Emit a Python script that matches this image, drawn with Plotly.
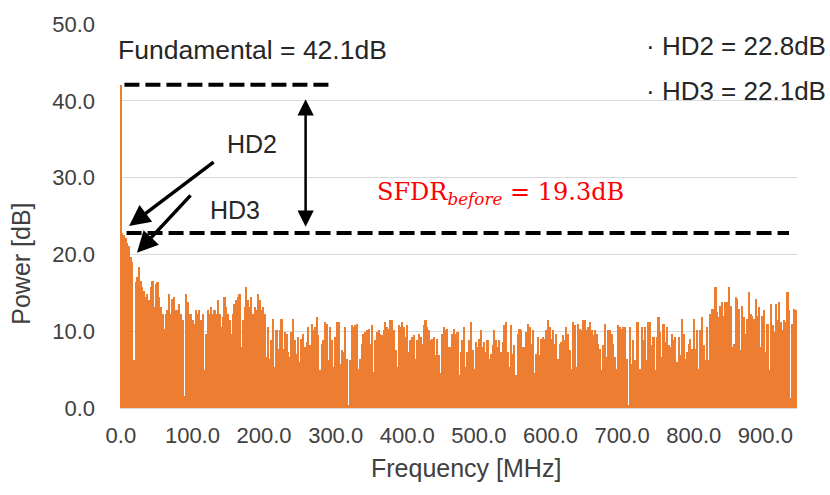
import numpy as np
import plotly.graph_objects as go

# ---------------- data ----------------
FREQ_STEP_MHZ = 2.34          # spacing of the spectrum bins
FUNDAMENTAL_DB = 42.1
HD2_DB = 22.8
HD3_DB = 22.1
SFDR_DB = 19.3

POWER_LOW = [  # ~0 - 350 MHz
    42.1, 22.8, 22.5, 22.1, 21.5, 21.1, 19.6, 19.0, 6.2, 16.4,
    17.0, 18.3, 16.6, 15.8, 15.3, 14.4, 14.85, 14.0, 15.7, 16.6,
    13.1, 16.2, 16.4, 14.4, 13.1, 12.3, 10.3, 12.3, 12.7, 14.85,
    12.3, 14.2, 14.4, 12.7, 12.7, 13.6, 12.3, 11.4, 1.5, 14.85,
    13.8, 12.3, 12.3, 11.4, 11.0, 12.7, 12.3, 12.7, 11.4, 12.3,
    4.9, 9.7, 12.7, 12.3, 13.1, 12.3, 12.7, 12.3, 14.0, 12.3,
    10.5, 11.8, 14.4, 13.1, 12.3, 11.4, 9.7, 12.3, 13.6, 14.0,
    14.4, 14.85, 7.9, 11.4, 13.1, 15.7, 14.0, 13.1, 14.4, 12.3,
    13.1, 12.7, 14.85, 14.0, 12.7, 13.1, 12.3, 6.7,
]
POWER_MID1 = [
    10.5, 6.4, 8.8, 11.6, 5.35, 10.1, 7.7, 10.1, 11.6, 7.7,
    9.9, 9.7, 7.3, 6.65, 9.9, 11.6, 8.8, 7.08, 9.24, 6.0,
    9.03, 9.7, 7.95, 8.6, 10.5, 8.16, 10.97, 10.1, 10.5, 11.8,
    9.5, 4.9, 8.38, 8.8, 11.2, 10.97, 6.2, 10.5, 8.8, 5.35,
    9.24, 11.2, 11.2, 5.78, 7.5, 7.3, 10.5, 6.4, 0.39, 6.2,
    10.75, 10.5, 10.75, 10.97, 5.13, 6.4, 8.38, 9.7, 9.9, 10.1,
    10.3, 8.38, 10.75, 4.7, 8.8, 9.9, 10.1, 9.7, 9.5, 10.1,
    11.2, 10.5, 10.3, 11.4, 11.4, 10.1, 7.5, 5.35, 10.75, 10.5,
    11.2, 10.5, 9.24, 10.75, 7.3, 8.8, 9.24, 9.5, 6.4, 8.8,
    9.7, 9.24, 8.38, 10.75, 11.4, 10.5, 10.1, 8.8, 9.03, 9.24,
    6.86, 9.03,
]
POWER_MID2 = [
    6.86, 4.5, 9.7, 10.5, 10.1, 10.3, 7.95, 7.95, 9.7, 10.3,
    9.7, 9.9, 4.3, 7.3, 8.8, 10.5, 5.35, 7.3, 8.8, 11.2,
    7.5, 5.13, 8.6, 7.95, 9.03, 10.1, 7.95, 8.6, 7.3, 8.8,
    6.4, 7.08, 8.16, 10.1, 8.8, 7.95, 8.8, 7.3, 8.6, 10.75,
    11.2, 7.3, 5.35, 10.75, 7.08, 8.16, 4.3, 9.7, 10.3, 10.1,
    7.95, 7.95, 9.9, 10.97, 10.5, 8.38, 10.1, 4.5, 7.08, 9.24,
    6.86, 9.03, 9.24, 9.03, 10.1, 11.4, 10.5, 9.03, 10.1, 8.38,
    9.7, 6.4, 8.38, 8.6, 9.5, 8.8, 10.5, 9.7, 7.5, 5.13,
    11.2, 10.75, 5.35, 10.97, 10.3, 10.1, 11.4, 11.4, 10.1, 10.5,
    11.2, 10.1, 9.5, 10.1, 9.7, 8.38, 7.7, 4.9, 8.16, 10.97,
    6.65, 10.1,
]
POWER_HIGH = [  # ~710 - 945 MHz
    10.1, 9.7, 8.38, 6.65, 5.13, 10.75, 10.5, 10.3, 10.5, 10.5,
    6.4, 0.39, 10.5, 5.78, 8.8, 6.2, 11.2, 11.2, 5.13, 10.5,
    8.8, 10.5, 6.2, 11.2, 11.2, 8.16, 9.24, 4.9, 9.24, 11.8,
    9.9, 6.65, 10.97, 8.6, 10.5, 8.16, 7.95, 9.7, 8.8, 9.24,
    6.0, 9.24, 6.86, 11.6, 9.7, 6.4, 7.3, 8.38, 9.03, 7.7,
    11.6, 7.7, 10.1, 5.13, 10.1, 11.8, 8.16, 6.2, 10.5, 6.2,
    12.25, 12.9, 12.9, 15.7, 12.5, 11.8, 13.3, 13.8, 12.0, 13.8,
    13.8, 15.7, 13.3, 7.95, 8.38, 14.4, 14.2, 12.9, 7.5, 13.3,
    11.8, 9.7, 11.6, 15.1, 12.25, 12.0, 11.6, 14.2, 12.0, 13.1,
    7.95, 12.0, 12.7, 7.3, 10.97, 4.9, 13.5, 10.75, 9.9, 13.5,
    11.4, 13.8, 11.2, 10.1, 11.4, 11.2, 15.1, 12.7, 1.25, 10.97,
    12.9, 12.7,
]

POWER_DB = POWER_LOW + POWER_MID1 + POWER_MID2 + POWER_HIGH
FREQ_MHZ = np.arange(len(POWER_DB)) * FREQ_STEP_MHZ

X_TICKS = [0, 100, 200, 300, 400, 500, 600, 700, 800, 900]
Y_TICKS = [0, 10, 20, 30, 40, 50]

# ---------------- layout helpers ----------------
W, H = 830, 495
ML, MR, MT, MB = 120, 33, 22, 87
PW, PH = W - ML - MR, H - MT - MB


def px(x):
    return (x - ML) / PW


def py(y):
    return (H - MB - y) / PH


FONT = "Liberation Sans, Arial, sans-serif"
TXT = "#404040"
BAR = "#ED7D31"

fig = go.Figure()
fig.add_trace(go.Bar(
    x=FREQ_MHZ, y=POWER_DB,
    marker=dict(color=BAR, line=dict(width=0)),
    hoverinfo="x+y", showlegend=False,
))

x_lo = FREQ_MHZ[0] - FREQ_STEP_MHZ / 2
x_hi = FREQ_MHZ[-1] + FREQ_STEP_MHZ / 2

fig.update_layout(
    width=W, height=H,
    margin=dict(l=ML, r=MR, t=MT, b=MB, pad=0),
    paper_bgcolor="white", plot_bgcolor="white",
    bargap=0,
    font=dict(family=FONT, color=TXT),
    xaxis=dict(
        range=[x_lo, x_hi], tickmode="array", tickvals=X_TICKS,
        ticktext=[f"{v:.1f}" for v in X_TICKS],
        showgrid=False, zeroline=False, showline=True, linecolor="#d9d9d9",
        ticks="", tickfont=dict(size=22, color=TXT), ticklabelstandoff=8,
    ),
    yaxis=dict(
        range=[0, 50], tickmode="array", tickvals=Y_TICKS,
        ticktext=[f"{v:.1f}" for v in Y_TICKS],
        showgrid=True, gridcolor="#d9d9d9", gridwidth=1, zeroline=False,
        showline=False, ticks="", tickfont=dict(size=22, color=TXT),
        ticklabelstandoff=24,
    ),
)

# dashed reference lines
DASH = "15px,6px"
fig.add_shape(type="line", xref="x", yref="y",
              x0=5, x1=295, y0=FUNDAMENTAL_DB, y1=FUNDAMENTAL_DB,
              line=dict(color="black", width=4, dash=DASH))
fig.add_shape(type="line", xref="x", yref="y",
              x0=8, x1=933, y0=HD2_DB, y1=HD2_DB,
              line=dict(color="black", width=4, dash=DASH))

# arrows
fig.add_annotation(x=11.5, y=23.7, xref="x", yref="y", ax=86, ay=-65,
                   text="", showarrow=True, arrowhead=2, arrowsize=1.2,
                   arrowwidth=3.5, arrowcolor="black")
fig.add_annotation(x=22.5, y=20.2, xref="x", yref="y", ax=55, ay=-59,
                   text="", showarrow=True, arrowhead=2, arrowsize=1.2,
                   arrowwidth=3.5, arrowcolor="black")
fig.add_annotation(x=258, y=23.6, xref="x", yref="y",
                   ax=258, ay=40.4, axref="x", ayref="y",
                   text="", showarrow=True, arrowhead=2, arrowsize=1.3,
                   arrowwidth=2.5, arrowside="end+start", arrowcolor="black")


# texts
def note(text, x, y, size=25, color="#262626", xanchor="center",
         yanchor="middle", family=FONT, textangle=0):
    fig.add_annotation(text=text, x=px(x), y=py(y), xref="paper",
                       yref="paper", showarrow=False, xanchor=xanchor,
                       yanchor=yanchor, textangle=textangle,
                       font=dict(size=size, color=color, family=family))


note(f"Fundamental = {FUNDAMENTAL_DB:.1f}dB", 116, 48, size=26.5,
     xanchor="left")
note(f"· HD2 = {HD2_DB:.1f}dB", 828, 44, size=26, xanchor="right")
note(f"· HD3 = {HD3_DB:.1f}dB", 828, 89, size=26, xanchor="right")
note("HD2", 252, 143)
note("HD3", 235, 209)
note(f"SFDR<sub><i>before</i></sub> = {SFDR_DB:.1f}dB", 501, 192,
     size=24, color="#FF0000", family="DejaVu Serif, serif")
note("Power [dB]", 21, 263, size=25, color=TXT, textangle=-90)
note("Frequency [MHz]", 466, 468, size=25, color=TXT)

fig.write_html(
    "out.html",
    config={"displayModeBar": False},
    post_script=(
        "document.body.style.margin='0';"
        "document.body.style.overflow='hidden';"
        "document.documentElement.style.overflow='hidden';"
    ),
)
